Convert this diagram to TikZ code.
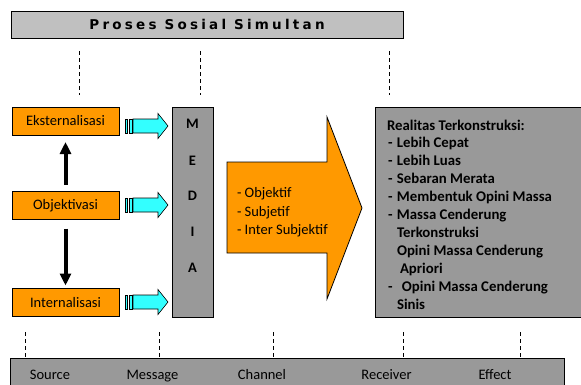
\documentclass[tikz,border=0pt]{standalone}
\usepackage{fontspec}
\setmainfont{Carlito}
\newfontfamily\titlefont{DejaVu Sans}[LetterSpace=24]
\usetikzlibrary{arrows.meta}
\definecolor{orng}{HTML}{FF9900}
\definecolor{cyn}{HTML}{33FFFF}
\definecolor{lgray}{HTML}{C0C0C0}
\definecolor{mgray}{HTML}{999999}
\newcommand\cyanarrow[3]{% name, x0, y
  \coordinate (#1) at (#2,#3);
  \filldraw[cyanstyle] ([xshift=0pt,yshift=-7pt]#1) rectangle ([xshift=2pt,yshift=7pt]#1);
  \filldraw[cyanstyle] ([xshift=4pt,yshift=-7pt]#1) rectangle ([xshift=7pt,yshift=7pt]#1);
  \filldraw[cyanstyle] ([xshift=8pt,yshift=-7pt]#1) -- ([xshift=33pt,yshift=-7pt]#1)
     -- ([xshift=33pt,yshift=-12.5pt]#1) -- ([xshift=43pt]#1)
     -- ([xshift=33pt,yshift=12.5pt]#1) -- ([xshift=33pt,yshift=7pt]#1)
     -- ([xshift=8pt,yshift=7pt]#1) -- cycle;}
\begin{document}
\begin{tikzpicture}[x=1pt,y=-1pt,
  every node/.style={inner sep=0pt, outer sep=0pt},
  cyanstyle/.style={fill=cyn, draw=black, line width=0.6pt},
  obox/.style={draw=black, line width=0.8pt, fill=orng, minimum width=107pt, minimum height=28pt, font=\fontsize{14.5}{17}\selectfont},
  gbox/.style={draw=black, line width=0.8pt, fill=mgray},
  dashline/.style={line width=1pt, dash pattern=on 4pt off 3pt},
  blackarrow/.style={line width=4pt, -{Triangle[width=11pt,length=12pt]}},
  lbl/.style={font=\fontsize{14.5}{17}\selectfont, anchor=base},
  rtxt/.style={font=\fontsize{14.8}{17}\selectfont\bfseries, anchor=base west},
  otxt/.style={font=\fontsize{14.5}{17}\selectfont, anchor=base west},
  mtxt/.style={font=\fontsize{14.5}{17}\selectfont\bfseries, anchor=base},
]
\useasboundingbox (0,0) rectangle (581,384);
% title bar
\node[draw=black, line width=0.8pt, fill=lgray, minimum width=392pt, minimum height=27pt,
  font=\titlefont\fontsize{13.5}{15}\selectfont\bfseries] (title) at (207,24.5) {Proses Sosial Simultan};
% top dashes
\foreach \x [count=\i] in {79,200,389} {
  \coordinate (ta\i) at (\x,51); \coordinate (tb\i) at (\x,95);
  \draw[dashline] (ta\i) -- (tb\i);
}
% left boxes
\node[obox] (eks) at (65.5,121) {Eksternalisasi};
\node[obox] (obj) at (65.5,205.5) {Objektivasi};
\node[obox] (int) at (65.5,302.5) {Internalisasi};
\draw[blackarrow, shorten <=7pt, shorten >=7pt] (obj) -- (eks);
\draw[blackarrow, shorten <=9pt, shorten >=3pt] (obj) -- (int);
% cyan arrows
\cyanarrow{ca1}{125}{126}
\cyanarrow{ca2}{125}{205}
\cyanarrow{ca3}{125}{302}
% media
\node[gbox, minimum width=41pt, minimum height=210pt] (media) at (192.5,212) {};
\node[mtxt] (m1) at (192.5,128) {M};
\node[mtxt] (m2) at (192.5,165.5) {E};
\node[mtxt] (m3) at (192.5,200.5) {D};
\node[mtxt] (m4) at (192.5,236.5) {I};
\node[mtxt] (m5) at (192.5,272.5) {A};
% big orange arrow
\filldraw[fill=orng, draw=black, line width=0.8pt] (227,162) -- (327,162) -- (327,117) -- (362,208)
  -- (327,299) -- (327,253) -- (227,253) -- cycle;
\node[otxt] (o1) at (237,197.5) {- Objektif};
\node[otxt] (o2) at (237,216) {- Subjetif};
\node[otxt] (o3) at (237,234.5) {- Inter Subjektif};
% right box
\node[gbox, minimum width=220pt, minimum height=210pt] (real) at (485,212) {};
\node[rtxt] (r1) at (387,130) {Realitas Terkonstruksi:};
\node[rtxt] (r2) at (388,147.9) {\makebox[9pt][l]{-}Lebih Cepat};
\node[rtxt] (r3) at (388,165.8) {\makebox[9pt][l]{-}Lebih Luas};
\node[rtxt] (r4) at (388,183.7) {\makebox[9pt][l]{-}Sebaran Merata};
\node[rtxt] (r5) at (388,201.6) {\makebox[9pt][l]{-}Membentuk Opini Massa};
\node[rtxt] (r6) at (388,219.5) {\makebox[9pt][l]{-}Massa Cenderung};
\node[rtxt] (r7) at (397,237.4) {Terkonstruksi};
\node[rtxt] (r8) at (397,255.3) {Opini Massa Cenderung};
\node[rtxt] (r9) at (400,273.2) {Apriori};
\node[rtxt] (r10) at (388,291.1) {\makebox[14pt][l]{-}Opini Massa Cenderung};
\node[rtxt] (r11) at (397,309) {Sinis};
% bottom dashes
\foreach \x [count=\i] in {25,159,273,403,520} {
  \coordinate (ba\i) at (\x,332); \coordinate (bb\i) at (\x,358);
  \draw[dashline] (ba\i) -- (bb\i);
}
% bottom bar
\node[gbox, minimum width=554pt, minimum height=40pt] (bottom) at (287,378) {};
\node[lbl] (l1) at (50,379) {Source};
\node[lbl] (l2) at (152.5,379) {Message};
\node[lbl] (l3) at (262,379) {Channel};
\node[lbl] (l4) at (386.5,379) {Receiver};
\node[lbl] (l5) at (495,379) {Effect};
\end{tikzpicture}
\end{document}
